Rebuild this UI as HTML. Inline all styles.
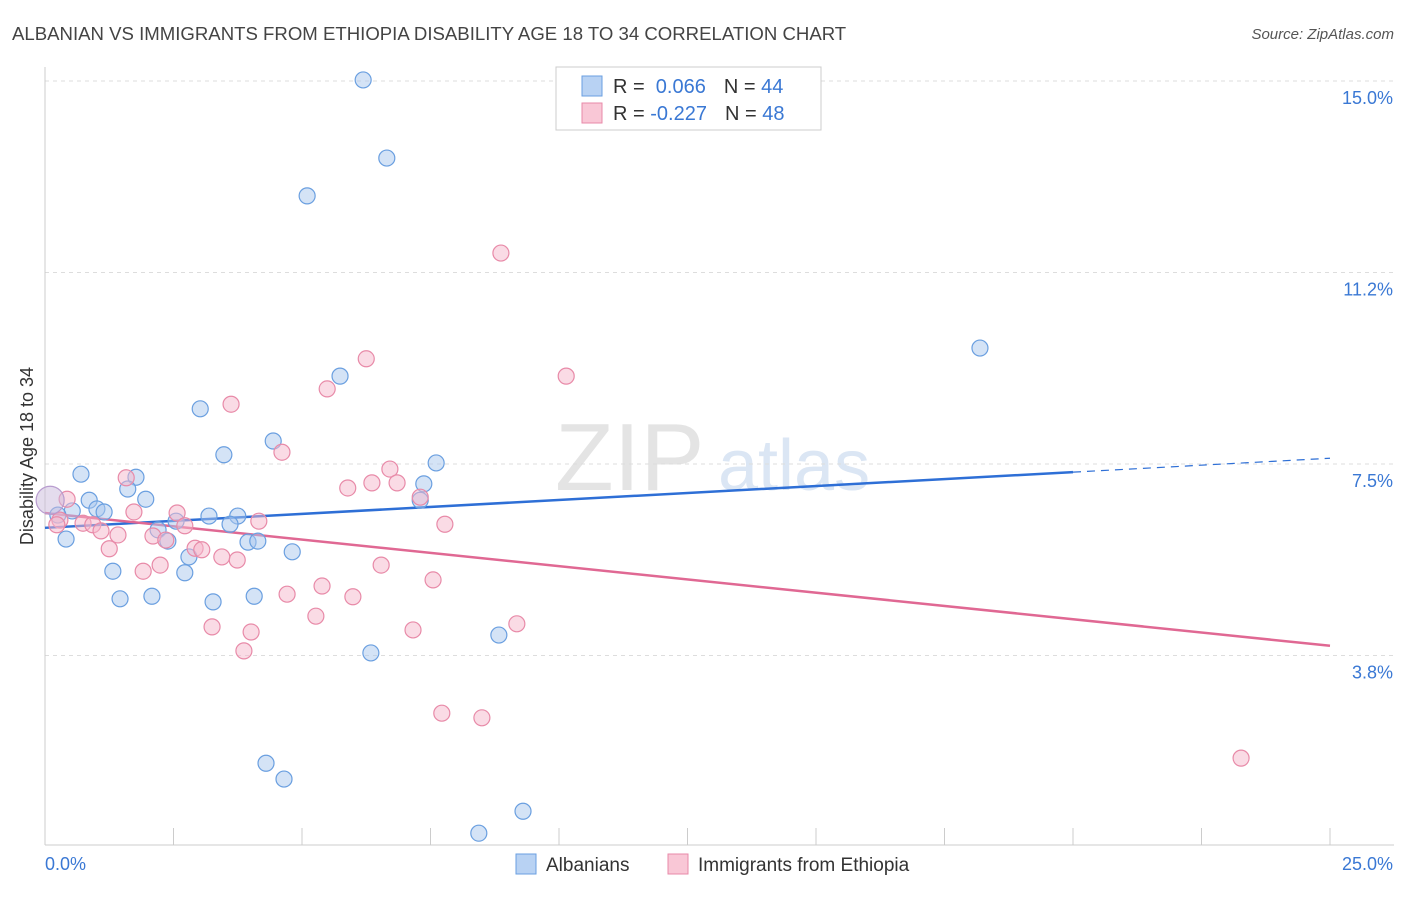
<!DOCTYPE html>
<html><head><meta charset="utf-8">
<style>
body{margin:0;background:#fff;font-family:"Liberation Sans",sans-serif;}
svg text{font-family:"Liberation Sans",sans-serif;}
</style></head>
<body>
<svg id="chart" width="1406" height="892" viewBox="0 0 1406 892">
<text x="12" y="40" font-size="18.6" fill="#444">ALBANIAN VS IMMIGRANTS FROM ETHIOPIA DISABILITY AGE 18 TO 34 CORRELATION CHART</text>
<text x="1394" y="39" font-size="15" fill="#555" font-style="italic" text-anchor="end">Source: ZipAtlas.com</text>
<text x="555" y="490" font-size="96" fill="#e4e4e4" font-family="Liberation Serif">ZIP</text>
<text x="718" y="490" font-size="72" fill="#dbe6f4">atlas</text>
<text transform="translate(33,456) rotate(-90)" font-size="18" fill="#333" text-anchor="middle">Disability Age 18 to 34</text>
<g id="grid"></g>
<g id="axes"></g>
<g id="trends"></g>
<g id="points"></g>
<g>
<rect x="556" y="67" width="265" height="63" fill="#fff" stroke="#ccc"/>
<rect x="582" y="76" width="20" height="20" fill="#b8d2f3" stroke="#6a9fe0"/>
<rect x="582" y="103" width="20" height="20" fill="#f9c7d6" stroke="#e88aa8"/>
<text x="613" y="93" font-size="20" fill="#333">R = <tspan fill="#3a78d4">&#160;0.066</tspan><tspan dx="18">N = </tspan><tspan fill="#3a78d4">44</tspan></text>
<text x="613" y="120" font-size="20" fill="#333">R = <tspan fill="#3a78d4">-0.227</tspan><tspan dx="18">N = </tspan><tspan fill="#3a78d4">48</tspan></text>
</g>
<g>
<rect x="516" y="854" width="20" height="20" fill="#b8d2f3" stroke="#6a9fe0"/>
<text x="546" y="871" font-size="19" fill="#333">Albanians</text>
<rect x="668" y="854" width="20" height="20" fill="#f9c7d6" stroke="#e88aa8"/>
<text x="698" y="871" font-size="19" fill="#333">Immigrants from Ethiopia</text>
</g>
</svg>
<script>
const yTicks=[15.0,11.2,7.5,3.8];
const yTickVals=[15,11.25,7.5,3.75];
const xTickLabels=["0.0%","25.0%"];
const blueX=[6.19,6.65,5.10,18.19,5.74,3.02,4.44,3.48,7.61,0.70,1.77,1.61,7.37,0.86,1.96,7.30,1.01,1.15,0.53,0.25,3.19,3.75,2.55,3.60,2.20,2.39,3.95,4.14,0.41,4.81,2.80,1.32,2.72,1.46,2.08,3.27,4.07,8.83,6.34,4.30,4.65,9.30,8.44];
const blueY=[15.02,13.49,12.75,9.77,9.22,8.58,7.95,7.68,7.52,7.30,7.24,7.01,7.11,6.79,6.81,6.79,6.62,6.56,6.58,6.50,6.48,6.48,6.38,6.32,6.21,5.99,5.97,5.99,6.03,5.78,5.68,5.40,5.37,4.86,4.91,4.80,4.91,4.15,3.80,1.64,1.33,0.70,0.27];
const pinkX=[8.87,6.25,10.14,5.49,3.62,4.61,6.71,1.58,5.89,6.36,6.85,7.30,0.43,0.29,0.74,0.93,1.73,2.57,2.72,4.16,7.78,1.09,1.42,2.10,2.35,2.92,3.05,3.44,3.74,1.25,2.24,1.91,6.54,7.55,5.39,4.71,5.99,5.27,3.25,4.01,7.16,9.18,3.87,7.72,8.50,23.27,0.23];
const pinkY=[11.63,9.56,9.22,8.97,8.67,7.73,7.40,7.23,7.03,7.13,7.13,6.85,6.81,6.40,6.34,6.31,6.56,6.54,6.29,6.38,6.32,6.19,6.11,6.09,6.01,5.85,5.82,5.68,5.62,5.84,5.52,5.40,5.52,5.23,5.11,4.95,4.90,4.52,4.31,4.21,4.25,4.37,3.84,2.62,2.53,1.74,6.31];
const bigPoint=[0.10,6.79];
const blueTrend=[6.25,7.34,20];
const pinkTrend=[6.54,3.94];
const NS="http://www.w3.org/2000/svg";
const xs=v=>45+v*51.4, ys=v=>847-v*51.07;
function mk(tag,attrs,parent){const e=document.createElementNS(NS,tag);for(const k in attrs)e.setAttribute(k,attrs[k]);parent.appendChild(e);return e;}
const grid=document.getElementById('grid'),axes=document.getElementById('axes'),tr=document.getElementById('trends'),pts=document.getElementById('points');
yTickVals.forEach((v,i)=>{
 const l=mk('line',{x1:45,x2:1394,y1:ys(v),y2:ys(v),stroke:'#ddd','stroke-dasharray':'4,4'},grid);
 
 
 const t=mk('text',{x:1393,y:ys(v)+23,'font-size':18,fill:'#3a78d4','text-anchor':'end'},grid);
 t.textContent=yTicks[i].toFixed(1)+'%';
 
 
});
const xa=mk('line',{x1:45,x2:1394,y1:845,y2:845,stroke:'#ccc'},axes);


const ya=mk('line',{x1:45,x2:45,y1:67,y2:845,stroke:'#ccc'},axes);


for(let i=0;i<=10;i++){const t=mk('line',{x1:xs(i*2.5),x2:xs(i*2.5),y1:828,y2:845,stroke:'#ccc'},axes);
 
 }
const xl0=mk('text',{x:45,y:870,'font-size':18,fill:'#3a78d4'},axes);xl0.textContent=xTickLabels[0];


const xl1=mk('text',{x:1393,y:870,'font-size':18,fill:'#3a78d4','text-anchor':'end'},axes);xl1.textContent=xTickLabels[1];


function dot(x,y,r,fill,stroke,name){const c=mk('circle',{cx:xs(x),cy:ys(y),r:r,fill:fill,'fill-opacity':0.5,stroke:stroke,'stroke-width':1.2},pts);
 
 }
blueX.forEach((x,i)=>dot(x,blueY[i],8,'#a9c8ee','#6a9fe0','albanian-point'));
pinkX.forEach((x,i)=>dot(x,pinkY[i],8,'#f5b8cb','#e88aa8','ethiopia-point'));
dot(bigPoint[0],bigPoint[1],14,'#c9b9dc','#b89ccf','overlap-point');
const slope=(blueTrend[1]-blueTrend[0])/blueTrend[2];
const b1=mk('line',{x1:xs(0),y1:ys(blueTrend[0]),x2:xs(blueTrend[2]),y2:ys(blueTrend[1]),stroke:'#2e6fd6','stroke-width':2.5},tr);


const b2=mk('line',{x1:xs(blueTrend[2]),y1:ys(blueTrend[1]),x2:xs(25),y2:ys(blueTrend[0]+slope*25),stroke:'#2e6fd6','stroke-width':1.2,'stroke-dasharray':'8,6'},tr);


const p1=mk('line',{x1:xs(0),y1:ys(pinkTrend[0]),x2:xs(25),y2:ys(pinkTrend[1]),stroke:'#e06893','stroke-width':2.5},tr);


</script>
</body></html>
